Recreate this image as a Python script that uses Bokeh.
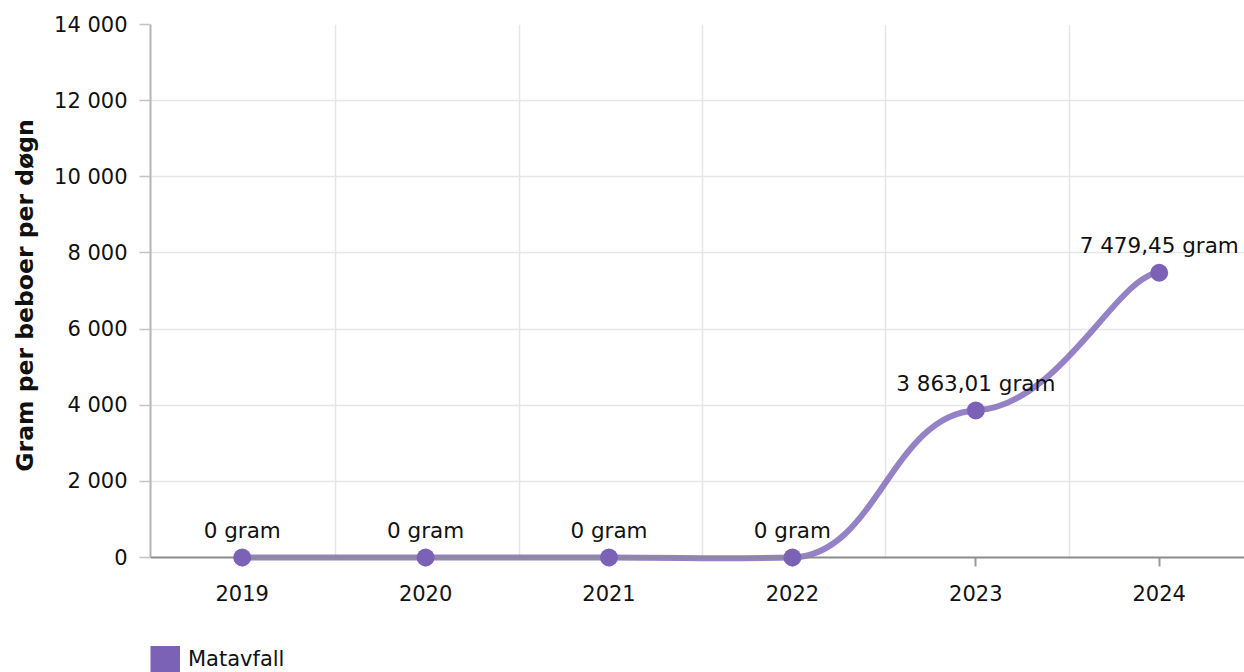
import numpy as np
from bokeh.plotting import figure
from bokeh.layouts import column
from bokeh.models import Range1d, FixedTicker, Legend, LegendItem, ColumnDataSource, Span
from bokeh.core.properties import value
from bokeh.embed import file_html
from bokeh.resources import INLINE

# ---- data ----
years = ["2019", "2020", "2021", "2022", "2023", "2024"]
matavfall = [0, 0, 0, 0, 3863.01, 7479.45]
y_ticks = [0, 2000, 4000, 6000, 8000, 10000, 12000, 14000]
series_name = "Matavfall"
y_title = "Gram per beboer per døgn"
unit = "gram"

FONT = "DejaVu Sans"
PURPLE = "#7b62b6"
TEXT = "#111111"


def fmt_num(v):
    if float(v).is_integer():
        return f"{int(v):,}".replace(",", " ")
    return f"{v:,.2f}".replace(",", " ").replace(".", ",")


xs = np.arange(len(years), dtype=float)
ys = np.array(matavfall, dtype=float)

# smooth curve control points (tension-style bezier through the points)
ax_t, ay_t = 0.23, 0.015
n = len(xs)
i1 = np.arange(n - 1)
i0 = np.clip(i1 - 1, 0, n - 1)
i2 = i1 + 1
i3 = np.clip(i1 + 2, 0, n - 1)
curve = ColumnDataSource(dict(
    x0=xs[i1], y0=ys[i1], x1=xs[i2], y1=ys[i2],
    cx0=xs[i1] + ax_t * (xs[i2] - xs[i0]), cy0=ys[i1] + ay_t * (ys[i2] - ys[i0]),
    cx1=xs[i2] - ax_t * (xs[i3] - xs[i1]), cy1=ys[i2] - ay_t * (ys[i3] - ys[i1]),
))

pts = ColumnDataSource(dict(x=xs, y=ys, label=[f"{fmt_num(v)} {unit}" for v in matavfall]))

W = 1244
H_MAIN = 636
H_LEG = 36
y_top = y_ticks[-1]
plot_px = 533          # pixel height of 0..max
below_px = 9           # room under zero so the zero markers are not clipped
y_lo = -below_px * y_top / plot_px
x_range = Range1d(-0.5, 5.465)

p = figure(width=W, height=H_MAIN, output_backend="svg", toolbar_location=None,
           title=None, x_range=x_range, y_range=Range1d(y_lo, y_top),
           min_border_left=150, min_border_right=0, min_border_top=24,
           min_border_bottom=H_MAIN - 24 - plot_px - below_px)
p.outline_line_color = None
p.background_fill_color = "white"
p.border_fill_color = "white"

# grid
p.ygrid.ticker = FixedTicker(ticks=y_ticks[1:])
p.xgrid.ticker = FixedTicker(ticks=[i + 0.51 for i in range(len(years) - 1)])
if hasattr(p.xgrid, "cross_bounds"):
    try:
        p.xgrid.cross_bounds = (0, y_top)
    except Exception:
        pass
for g in (p.xgrid, p.ygrid):
    g.grid_line_color = "#e6e6e6"
    g.grid_line_width = 1.5

# x axis (line drawn as a span at zero, ticks reach up to it)
p.xaxis.ticker = FixedTicker(ticks=list(range(len(years))))
p.xaxis.major_label_overrides = {i: y for i, y in enumerate(years)}
p.xaxis.axis_line_color = None
p.xaxis.major_tick_line_color = "#999999"
p.xaxis.major_tick_line_width = 2
p.xaxis.major_tick_in = below_px
p.xaxis.major_tick_out = 0
p.xaxis.minor_tick_line_color = None
p.xaxis.major_label_standoff = 18
p.xaxis.major_label_text_font = FONT
p.xaxis.major_label_text_font_size = "21px"
p.xaxis.major_label_text_color = TEXT

# y axis
p.yaxis.bounds = (0, y_top)
p.yaxis.ticker = FixedTicker(ticks=y_ticks)
p.yaxis.major_label_overrides = {t: fmt_num(t) for t in y_ticks}
p.yaxis.axis_line_color = "#b4b4b4"
p.yaxis.axis_line_width = 2
p.yaxis.major_tick_line_color = "#c4c4c4"
p.yaxis.major_tick_line_width = 1.5
p.yaxis.major_tick_in = 0
p.yaxis.major_tick_out = 11
p.yaxis.minor_tick_line_color = None
p.yaxis.major_label_standoff = 12
p.yaxis.major_label_text_font = FONT
p.yaxis.major_label_text_font_size = "21px"
p.yaxis.major_label_text_color = TEXT
p.yaxis.axis_label = y_title
p.yaxis.axis_label_text_font = FONT
p.yaxis.axis_label_text_font_style = "bold"
p.yaxis.axis_label_text_font_size = "23.5px"
p.yaxis.axis_label_text_color = TEXT
p.yaxis.axis_label_standoff = 12

# series
p.bezier(x0="x0", y0="y0", x1="x1", y1="y1", cx0="cx0", cy0="cy0", cx1="cx1", cy1="cy1",
         source=curve, line_color=PURPLE, line_alpha=0.8, line_width=6, line_cap="butt")

# zero axis line over the series line
p.add_layout(Span(location=0, dimension="width", line_color="#8c8c8c", line_width=2))

p.scatter("x", "y", source=pts, size=18, fill_color=PURPLE, line_color=None, level="overlay")
p.text("x", "y", text="label", source=pts, text_align="center", text_baseline="alphabetic",
       y_offset=-27, text_font=value(FONT), text_font_size="21.5px", text_color=TEXT)

# ---- legend strip below the chart ----
leg = figure(width=W, height=H_LEG, output_backend="svg", toolbar_location=None, title=None,
             x_range=x_range, y_range=Range1d(y_top * 10, y_top * 11),
             min_border=0, min_border_left=0, min_border_right=0,
             min_border_top=0, min_border_bottom=0)
leg.outline_line_color = None
leg.axis.visible = False
leg.grid.visible = False
# swatch: the series drawn as a thick butt-capped line, kept outside the strip's view
swatch = leg.line(x=xs, y=ys, line_color=PURPLE, line_width=30, line_cap="butt")
legend = Legend(items=[LegendItem(label=series_name, renderers=[swatch])],
                location=(0, 0), glyph_width=30, glyph_height=26, label_standoff=8,
                label_height=26,
                label_text_font=FONT, label_text_font_size="21px", label_text_color=TEXT,
                padding=0, margin=0, spacing=0, border_line_alpha=0, background_fill_alpha=0)
leg.add_layout(legend)

layout = column(p, leg, spacing=0)
open("out.html", "w").write(file_html(layout, INLINE))
